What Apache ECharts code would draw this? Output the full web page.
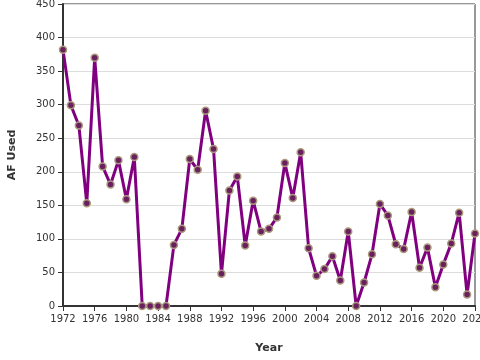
<!DOCTYPE html>
<html>
<head>
<meta charset="utf-8">
<script src="https://cdn.jsdelivr.net/npm/echarts@6/dist/echarts.min.js"></script>
<style>html,body{margin:0;padding:0;background:#fff}#c{width:480px;height:360px}</style>
</head>
<body>
<div id="c"></div>
<script>
var years = [];
for (var y = 1972; y <= 2024; y++) years.push(y);
var afUsed = [382, 299, 269, 153, 370, 208, 181, 217, 159, 222,
  0, 0, 0, 0, 91, 115, 219, 203, 291, 234,
  48, 172, 193, 90, 157, 111, 115, 132, 213, 161,
  229, 86, 45, 55, 74, 38, 111, 0, 35, 77,
  152, 135, 92, 85, 140, 57, 87, 28, 62, 93,
  139, 17, 108];
var points = years.map(function (yr, i) { return [yr, afUsed[i]]; });

var chart = echarts.init(document.getElementById('c'), null, {renderer: 'canvas'});
var font = 'DejaVu Sans';
chart.setOption({
  animation: false,
  backgroundColor: '#fff',
  grid: {left: 63, right: 5, top: 4, bottom: 54, show: true, borderColor: '#333', borderWidth: 1,
         containLabel: false, outerBoundsMode: 'none'},
  xAxis: {
    type: 'value', min: 1972, max: 2024, interval: 4,
    name: 'Year', nameLocation: 'middle', nameGap: 37,
    nameTextStyle: {fontFamily: font, fontWeight: 'bold', fontSize: 11, color: '#333'},
    axisLine: {lineStyle: {color: '#333', width: 2}},
    axisTick: {show: true, length: 5, lineStyle: {color: '#333'}},
    axisLabel: {fontFamily: font, fontSize: 10, color: '#333', margin: 8, hideOverlap: false,
                formatter: function (v) { return String(v); }},
    splitLine: {show: false}
  },
  yAxis: {
    type: 'value', min: 0, max: 450, interval: 50,
    name: 'AF Used', nameLocation: 'middle', nameGap: 45,
    nameTextStyle: {fontFamily: font, fontWeight: 'bold', fontSize: 11, color: '#333'},
    axisLine: {show: true, lineStyle: {color: '#333', width: 2}},
    axisTick: {show: true, length: 5, lineStyle: {color: '#333'}},
    axisLabel: {fontFamily: font, fontSize: 10, color: '#333', margin: 8},
    splitLine: {show: true, lineStyle: {color: '#ddd', width: 1}}
  },
  series: [{
    type: 'line',
    data: points,
    symbol: 'circle',
    symbolSize: 7,
    showAllSymbol: true,
    lineStyle: {color: '#800080', width: 3},
    itemStyle: {color: '#6a1f5f', borderColor: '#a99a7c', borderWidth: 1.5},
    z: 3
  }]
});
</script>
</body>
</html>
